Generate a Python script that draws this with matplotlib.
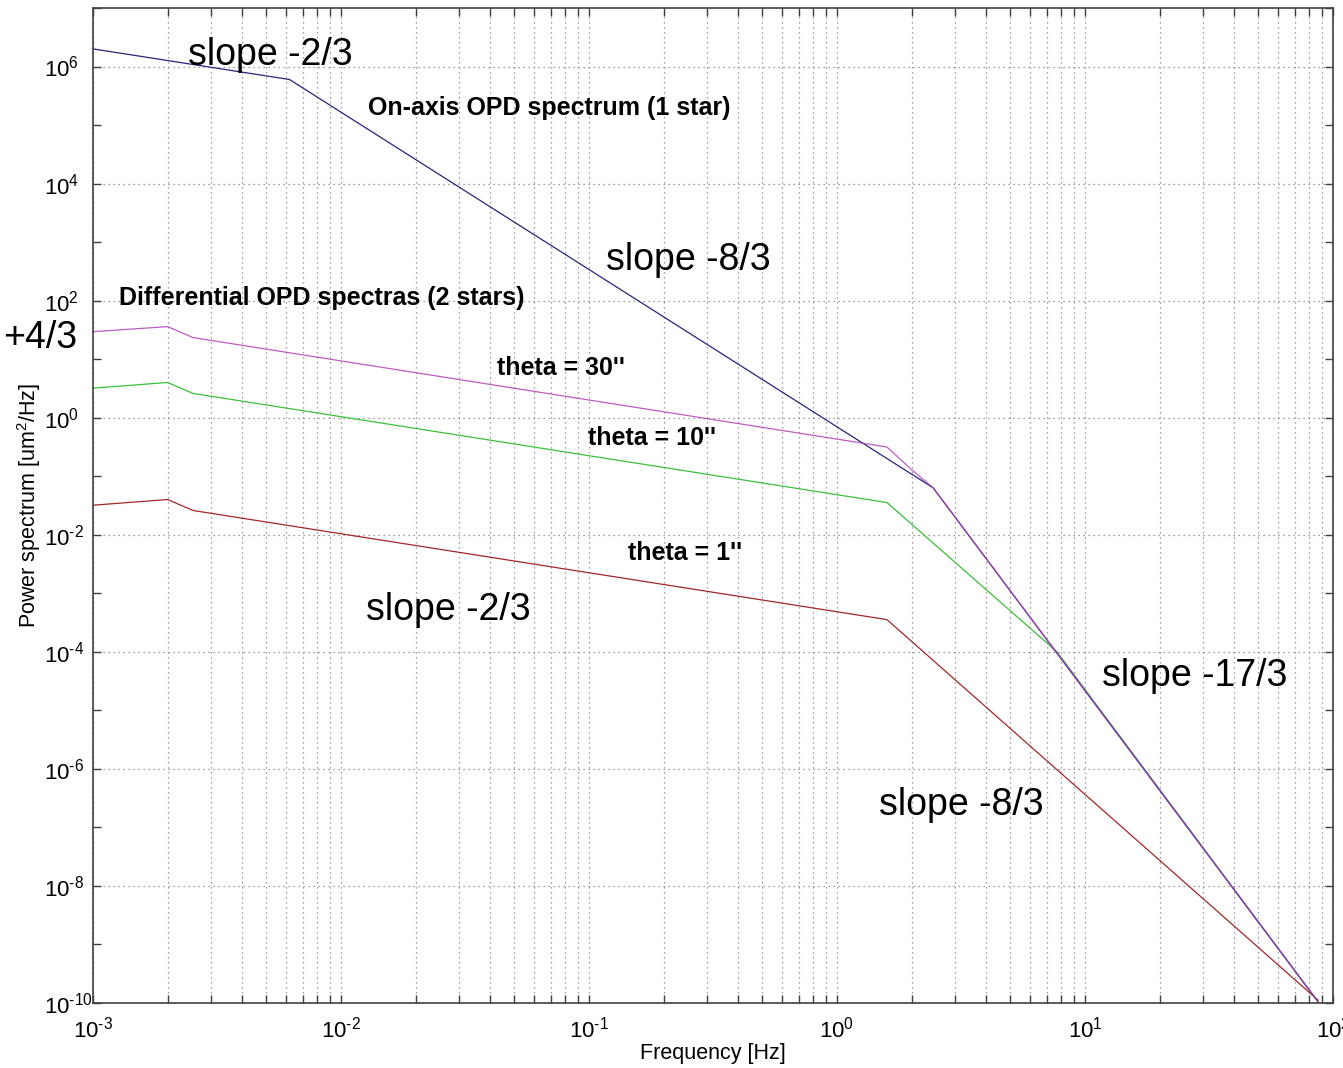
import numpy as np
import matplotlib
matplotlib.use("Agg")
import matplotlib.pyplot as plt
from matplotlib.ticker import FixedLocator, FuncFormatter, NullFormatter

plt.rcParams['font.family'] = ['Liberation Sans', 'DejaVu Sans']
plt.rcParams['mathtext.fontset'] = 'custom'
plt.rcParams['mathtext.rm'] = 'Liberation Sans'
plt.rcParams['mathtext.it'] = 'Liberation Sans:italic'
plt.rcParams['mathtext.bf'] = 'Liberation Sans:bold'

# ---- data (breakpoints) ----
f_onaxis = [1e-3, 6.2e-3, 2.44, 87.0]
p_onaxis = [2.0e6, 6.0e5, 6.35e-2, 1.05e-10]

f_theta30 = [1e-3, 2e-3, 2.53e-3, 1.59, 2.0, 2.44, 87.0]
p_theta30 = [29.5, 36.0, 23.4, 0.316, 0.129, 6.35e-2, 1.05e-10]

f_theta10 = [1e-3, 2e-3, 2.53e-3, 1.59, 7.71, 87.0]
p_theta10 = [3.2, 4.0, 2.6, 3.55e-2, 1.0e-4, 1.05e-10]

f_theta1 = [1e-3, 2e-3, 2.53e-3, 1.59, 87.0]
p_theta1 = [3.2e-2, 4.0e-2, 2.6e-2, 3.55e-4, 1.12e-10]

x_major = [1e-3, 1e-2, 1e-1, 1e0, 1e1, 1e2]
y_major_exp = [-10, -8, -6, -4, -2, 0, 2, 4, 6]
y_minor_exp = [-9, -7, -5, -3, -1, 1, 3, 5, 7]

fig = plt.figure(figsize=(13.43, 10.68), dpi=100)
ax = fig.add_axes([93/1343, 1 - 1003/1068, 1240/1343, 995/1068])

ax.plot(f_theta1, p_theta1, color='#a02828', lw=0.9)
ax.plot(f_theta10, p_theta10, color='#3cc03c', lw=0.9)
ax.plot(f_onaxis, p_onaxis, color='#26267a', lw=0.9)
ax.plot(f_theta30, p_theta30, color='#b040b8', lw=0.9, alpha=0.85)

ax.set_xscale('log')
ax.set_yscale('log')
ax.set_xlim(1e-3, 1e2)
ax.set_ylim(1e-10, 1e7)


def powfmt(v, p):
    e = int(round(np.log10(v)))
    if e < 0:
        return r'$10^{\text{-}%d}$' % (-e)
    return r'$10^{%d}$' % e


ax.xaxis.set_major_locator(FixedLocator(x_major))
minors = [m * d for d in x_major[:-1] for m in range(2, 10)]
ax.xaxis.set_minor_locator(FixedLocator(minors))
ax.xaxis.set_minor_formatter(NullFormatter())
ax.xaxis.set_major_formatter(FuncFormatter(powfmt))

ax.yaxis.set_major_locator(FixedLocator([10.0**e for e in y_major_exp]))
ax.yaxis.set_minor_locator(FixedLocator([10.0**e for e in y_minor_exp]))
ax.yaxis.set_minor_formatter(NullFormatter())
ax.yaxis.set_major_formatter(FuncFormatter(powfmt))

ax.tick_params(which='both', direction='in', top=True, right=True, length=6,
               width=1.0, color='#404040', labelsize=16)
ax.tick_params(axis='x', pad=10)
ax.tick_params(axis='y', pad=49 * 72 / 100)
for lab in ax.get_yticklabels():
    lab.set_horizontalalignment('left')

gridkw = dict(color='#808080', linestyle=(0, (1, 3)), linewidth=0.9)
ax.grid(which='major', axis='both', **gridkw)
ax.grid(which='minor', axis='x', **gridkw)

for s in ax.spines.values():
    s.set_color('#404040')
    s.set_linewidth(1.2)

ax.set_xlabel('Frequency [Hz]', fontsize=15.5, labelpad=2)
ax.set_ylabel(r'Power spectrum [um$^2$/Hz]', fontsize=15.5, labelpad=2)

def at(px, py):
    return ((px - 93) / 1240, (1003 - py) / 995)

big = 27
mid = 18
txt = [
    ('slope -2/3', 270, 55, big, 'normal'),
    ('On-axis OPD spectrum (1 star)', 549.5, 108, mid, 'bold'),
    ('slope -8/3', 688.5, 260, big, 'normal'),
    ('Differential OPD spectras (2 stars)', 322, 298, mid, 'bold'),
    ('+4/3', 40, 338, big, 'normal'),
    ("theta = 30''", 561, 368, mid, 'bold'),
    ("theta = 10''", 651.5, 438, mid, 'bold'),
    ("theta = 1''", 685, 553, mid, 'bold'),
    ('slope -2/3', 448.5, 610, big, 'normal'),
    ('slope -17/3', 1195, 676, big, 'normal'),
    ('slope -8/3', 961.5, 805, big, 'normal'),
]
for s, px, py, fs, fw in txt:
    x, y = at(px, py)
    ax.text(x, y, s, transform=ax.transAxes, ha='center', va='center',
            fontsize=fs, fontweight=fw, clip_on=False)

ax.yaxis.set_label_coords(at(43, 0)[0], 0.5)
ax.xaxis.set_label_coords(at(713, 0)[0], at(0, 1043)[1])

fig.savefig('out.png', dpi=100)
